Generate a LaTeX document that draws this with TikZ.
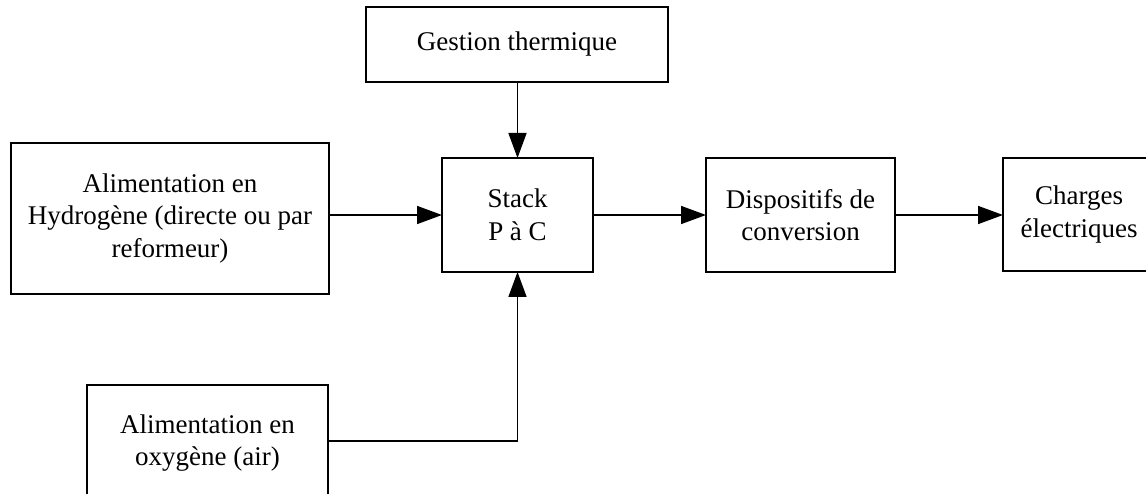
\documentclass[tikz,border=0pt]{standalone}
\usepackage{fontspec}
\setmainfont{Liberation Serif}
\usetikzlibrary{arrows.meta}
\begin{document}
\begin{tikzpicture}[x=1pt,y=-1pt,
  blk/.style={draw,line width=1.6pt,inner sep=0pt,outer sep=0pt,align=center,
    font=\fontsize{27}{32.5}\selectfont},
  conn/.style={line width=1.6pt,-{Triangle[length=25pt,width=18pt]}}]
\useasboundingbox (0,0) rectangle (1146,494);
\clip (0,0) rectangle (1146,494);
\node[blk,minimum width=302pt,minimum height=75pt] (G) at (517,44.5) {Gestion thermique};
\node[blk,minimum width=318pt,minimum height=151pt] (H) at (170,218.5) {Alimentation en\\Hydrogène (directe ou par\\reformeur)};
\node[blk,minimum width=151pt,minimum height=114pt] (S) at (517.5,215) {Stack\\P à C};
\node[blk,minimum width=189pt,minimum height=114pt] (D) at (800.5,215) {Dispositifs de\\conversion};
\node[blk,minimum width=152pt,minimum height=113pt] (C) at (1079,214.5) {Charges\\électriques};
\node[blk,minimum width=241pt,minimum height=116pt] (O) at (207.5,443) {Alimentation en\\oxygène (air)};
\draw[conn] (G.south -| S.north) -- (S.north);
\draw[conn] (H.east |- S.west) -- (S.west);
\draw[conn] (S.east) -- (D.west);
\draw[conn] (D.east) -- (C.west |- D.east);
\draw[conn] (O.east |- 0,441) -| (S.south);
\end{tikzpicture}
\end{document}
